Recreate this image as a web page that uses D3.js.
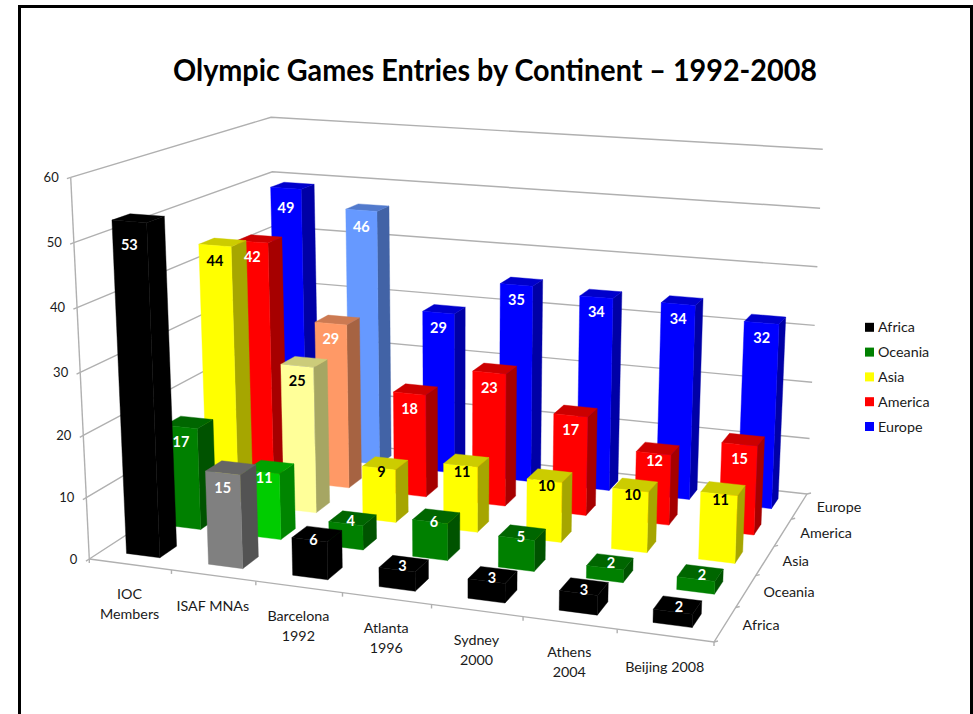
<!DOCTYPE html>
<html><head><meta charset="utf-8">
<script src="https://cdn.jsdelivr.net/npm/d3@7/dist/d3.min.js"></script>
<style>html,body{margin:0;padding:0;background:#fff}svg{display:block}text{font-family:Lato,"Open Sans",sans-serif}</style>
</head><body><svg id="c" width="973" height="714"></svg>
<script>
const title = "Olympic Games Entries by Continent – 1992-2008";
const categories = [["IOC","Members"],["ISAF MNAs"],["Barcelona","1992"],["Atlanta","1996"],["Sydney","2000"],["Athens","2004"],["Beijing 2008"]];
const seriesNames = ["Africa","Oceania","Asia","America","Europe"];
const Africa  = [53,15,6,3,3,3,2];
const Oceania = [17,11,4,6,5,2,2];
const Asia    = [44,25,9,11,10,10,11];
const America = [42,29,18,23,17,12,15];
const Europe  = [49,46,29,35,34,34,32];
const seriesValues = [Africa,Oceania,Asia,America,Europe];
const baseColors = ["#000000","#008000","#ffff00","#ff0000","#0000ff"];
const highlightColors = ["#808080","#00cc00","#ffff99","#ff9966","#6699ff"];
const labelColors = ["#fff","#fff","#000","#fff","#fff"];
const yTicks = [0,10,20,30,40,50,60];

// projection: floor corners on the page, vertical vanishing point, height at front-left corner
const floorQ = [[89.3,559],[714,642],[807,494],[278.5,436]];   // FL FR BR BL
const vp = [458,8126], frontHeight = 382;
function homography(q){
  const [[x0,y0],[x1,y1],[x2,y2],[x3,y3]] = q;
  const dx1=x1-x2,dx2=x3-x2,sx=x0-x1+x2-x3,dy1=y1-y2,dy2=y3-y2,sy=y0-y1+y2-y3;
  const den=dx1*dy2-dx2*dy1;
  const g=(sx*dy2-dx2*sy)/den,h=(dx1*sy-sx*dy1)/den;
  const a=x1-x0+g*x1,b=x3-x0+h*x3,d=y1-y0+g*y1,e=y3-y0+h*y3;
  return (u,v)=>{const w=g*u+h*v+1;return [(a*u+b*v+x0)/w,(d*u+e*v+y0)/w,w];};
}
const H0=homography(floorQ);
const yScale=d3.scaleLinear().domain(yTicks).range([0,.161,.324,.489,.659,.829,1]);
function P(u,v,val){
  const [bx,by,w]=H0(u,v),dx=bx-vp[0],dy=by-vp[1],n=Math.hypot(dx,dy),L=frontHeight/w*yScale(val);
  return [bx+dx/n*L,by+dy/n*L];
}
const xBand=d3.scaleBand().domain(d3.range(categories.length)).range([0,1]).paddingInner(.59).paddingOuter(.295);
const zBand=d3.scaleBand().domain(d3.range(seriesNames.length)).range([0,1]).paddingInner(.6).paddingOuter(.3);
const line=d3.line();
const svg=d3.select("#c");

// frame
svg.append("path").attr("d","M19.5,714V6.5H971.5V714").attr("fill","none").attr("stroke","#000").attr("stroke-width",3);

svg.append("text").attr("x",495).attr("y",81).attr("text-anchor","middle")
  .attr("font-size",30.5).attr("font-weight",700).attr("fill","#000")
  .attr("textLength",644).attr("lengthAdjust","spacingAndGlyphs").text(title);

const grid=svg.append("g").attr("fill","none").attr("stroke","#b0b0b0").attr("stroke-width",1.4);
yTicks.forEach(t=>{
  grid.append("path").attr("d",line([P(0,0,t),P(0,1,t),P(1,1,t)]));
  const a=P(0,0,t),b=P(0,1,t),n=Math.hypot(b[0]-a[0],b[1]-a[1]);
  grid.append("path").attr("d",line([[a[0]-(b[0]-a[0])/n*4,a[1]-(b[1]-a[1])/n*4],a]));
});
grid.append("path").attr("d",line([P(0,0,0),P(0,0,60)]));
grid.append("path").attr("d",line([P(0,0,0),P(1,0,0),P(1,1,0)]));
const xStep=xBand.step(),zStep=zBand.step();
d3.range(categories.length+1).forEach(i=>{
  const a=P(i*xStep,0,0);
  grid.append("path").attr("d",line([a,[a[0],a[1]+4]]));
});
d3.range(seriesNames.length+1).forEach(i=>{
  const a=P(1,i*zStep,0);
  grid.append("path").attr("d",line([a,[a[0]+4,a[1]-1]]));
});

const axisText=svg.append("g").attr("font-size",14.3).attr("fill","#1a1a1a");
yTicks.forEach(t=>{
  const p=P(0,0,t);
  axisText.append("text").attr("x",p[0]-12).attr("y",p[1]+4.5).attr("text-anchor","end").attr("font-size",13).text(t);
});
categories.forEach((lines,i)=>{
  const p=P((i+.5)*xStep,0,0);
  lines.forEach((s,k)=>axisText.append("text").attr("x",p[0]-.5).attr("y",p[1]+(lines.length>1?34.5:36)+k*20).attr("text-anchor","middle").text(s));
});
seriesNames.forEach((s,i)=>{
  const p=P(1,(i+.5)*zStep,0);
  axisText.append("text").attr("x",p[0]+17.5).attr("y",p[1]+5.5).text(s);
});

function shade(c,k){const r=d3.rgb(c);return d3.rgb(r.r*k,r.g*k,r.b*k).formatHex();}
const bars=svg.append("g"),labels=svg.append("g");
for(let s=seriesNames.length-1;s>=0;s--){
  const v0=zBand(s),v1=v0+zBand.bandwidth();
  seriesValues[s].forEach((val,i)=>{
    const u0=xBand(i),u1=u0+xBand.bandwidth();
    const col=i===1?highlightColors[s]:baseColors[s];
    const face=(pts,f)=>bars.append("path").attr("d",line(pts)+"Z").attr("fill",f).attr("stroke",f).attr("stroke-width",.4);
    face([P(u1,v0,0),P(u1,v1,0),P(u1,v1,val),P(u1,v0,val)],shade(col,.65));
    face([P(u0,v0,val),P(u1,v0,val),P(u1,v1,val),P(u0,v1,val)],shade(col,.8));
    face([P(u0,v0,0),P(u1,v0,0),P(u1,v0,val),P(u0,v0,val)],col);
    const a=P(u0,v0,val),b=P(u1,v0,val);
    const off=val<15?1.2*val-7:15+Math.max(0,val-44);
    const sx=Math.max(0,7-.5*val);
    labels.append("text").attr("x",(a[0]+b[0])/2+sx).attr("y",(a[1]+b[1])/2+off+5)
      .attr("text-anchor","middle").attr("font-size",14.5).attr("font-weight",700)
      .attr("fill",labelColors[s]).text(val);
  });
}

const legendY=d3.scalePoint().domain(seriesNames).range([327.3,426.5]);
const legend=svg.append("g");
seriesNames.forEach((s,i)=>{
  legend.append("rect").attr("x",865).attr("y",legendY(s)-4.5).attr("width",9).attr("height",9).attr("fill",baseColors[i]);
  legend.append("text").attr("x",878).attr("y",legendY(s)+5).attr("font-size",14.3).attr("fill","#1a1a1a").text(s);
});
</script></body></html>
